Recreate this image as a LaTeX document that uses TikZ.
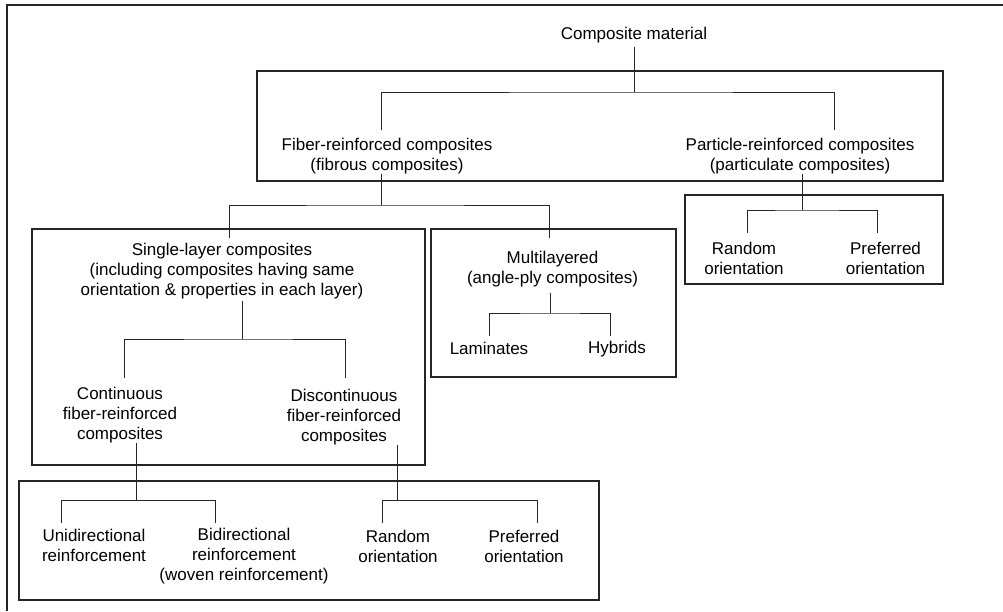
\documentclass[tikz,border=0pt]{standalone}
\usepackage{fontspec}
\setmainfont{Liberation Sans}
\tikzset{
    lbl/.style  = {align=center, inner sep=0pt, font=\fontsize{17}{20}\selectfont},
    grp/.style  = {draw=black!85, line width=1.1pt},
    link/.style = {draw=black!85, line width=0.9pt},
}

\begin{document}
\begin{tikzpicture}[x=1pt,y=-1pt]
    \useasboundingbox (0,0) rectangle (1003,611);
    % --- Frame
    \draw[black!85, line width=2pt] (6.5,611) -- (6.5,4.5) -- (1003,4.5);
    % --- Boxes
    \draw[grp] (257,71) rectangle (943,181);
    \draw[grp] (685,195) rectangle (943,284);
    \draw[grp] (32,229) rectangle (425,465);
    \draw[grp] (431,229) rectangle (676,377);
    \draw[grp] (19,481) rectangle (599,600);
    % --- Labels
    \node[lbl] (comp)   at (634,35.6)   {Composite material};
    \node[lbl] (fiber)  at (387,155.6)  {Fiber-reinforced composites\\(fibrous composites)};
    \node[lbl] (part)   at (800,155.6)  {Particle-reinforced composites\\(particulate composites)};
    \node[lbl] (randA)  at (744,258.6)  {Random\\orientation};
    \node[lbl] (prefA)  at (885.5,258.6) {Preferred\\orientation};
    \node[lbl] (single) at (222,271)    {Single-layer composites\\(including composites having same\\orientation \& properties in each layer)};
    \node[lbl] (multi)  at (552.5,268.6) {Multilayered\\(angle-ply composites)};
    \node[lbl] (lam)    at (489,348.6)  {Laminates};
    \node[lbl] (hyb)    at (617,348.6)  {Hybrids};
    \node[lbl] (cont)   at (120,414.6)  {Continuous\\fiber-reinforced\\composites};
    \node[lbl] (disc)   at (344,417)    {Discontinuous\\fiber-reinforced\\composites};
    \node[lbl] (uni)    at (94,545.6)   {Unidirectional\\reinforcement};
    \node[lbl] (bi)     at (244,555.6)  {Bidirectional\\reinforcement\\(woven reinforcement)};
    \node[lbl] (randB)  at (398,546)    {Random\\orientation};
    \node[lbl] (prefB)  at (524,546)    {Preferred\\orientation};
    % --- Junctions
    \coordinate (compBar)   at (634,92);
    \coordinate (fiberTip)  at (381,130);
    \coordinate (partTip)   at (834,130);
    \coordinate (fiberBar)  at (381,205);
    \coordinate (singleTip) at (229,238);
    \coordinate (multiTip)  at (549,238);
    \coordinate (partBar)   at (802,210);
    \coordinate (randATip)  at (747,233);
    \coordinate (prefATip)  at (877,233);
    \coordinate (singleBar) at (242,339);
    \coordinate (contTip)   at (124,378);
    \coordinate (discTip)   at (345,378);
    \coordinate (multiBar)  at (550,313);
    \coordinate (lamTip)    at (489,336);
    \coordinate (hybTip)    at (610,336);
    \coordinate (contBar)   at (136,500);
    \coordinate (uniTip)    at (61,523);
    \coordinate (biTip)     at (215,523);
    \coordinate (discBar)   at (397,500);
    \coordinate (randBTip)  at (382,523);
    \coordinate (prefBTip)  at (537,523);
    % --- Links
    \draw[link] ([yshift=-3pt]comp.south) -- (compBar);
    \draw[link] (fiberTip) |- (compBar) -| (partTip);
    \draw[link] (fiber.south -| fiberBar) -- (fiberBar);
    \draw[link] (singleTip) |- (fiberBar) -| (multiTip);
    \draw[link] (part.south -| partBar) -- (partBar);
    \draw[link] (randATip) |- (partBar) -| (prefATip);
    \draw[link] ([yshift=-2pt]single.south -| singleBar) -- (singleBar);
    \draw[link] (contTip) |- (singleBar) -| (discTip);
    \draw[link] ([yshift=-6pt]multi.south -| multiBar) -- (multiBar);
    \draw[link] (lamTip) |- (multiBar) -| (hybTip);
    \draw[link] (cont.south -| contBar) -- (contBar);
    \draw[link] (uniTip) |- (contBar) -| (biTip);
    \draw[link] (disc.south -| discBar) -- (discBar);
    \draw[link] (randBTip) |- (discBar) -| (prefBTip);
\end{tikzpicture}
\end{document}
